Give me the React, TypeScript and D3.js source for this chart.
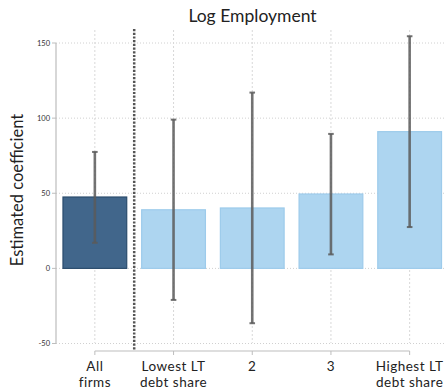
import React from 'react';
import * as d3 from 'd3';

const categories = ['All firms', 'Lowest LT debt share', '2', '3', 'Highest LT debt share'];
const labelLines = [['All', 'firms'], ['Lowest LT', 'debt share'], ['2'], ['3'], ['Highest LT', 'debt share']];
const coefs = [47.5, 39, 40.2, 49.5, 91];
const ciLow = [17, -21, -36.5, 9.3, 27.5];
const ciHigh = [77.5, 99, 117, 89.5, 154.5];
const yTicks = [-50, 0, 50, 100, 150];

const W = 448;
const H = 390;
const margin = { top: 43, left: 56, right: 3, bottom: 46 };
const font = 'Lato, "Noto Sans", sans-serif';

const App: React.FC = () => {
  const y = d3.scaleLinear().domain([-50, 150]).range([343.5, 43]);
  const x = d3.scaleBand()
    .domain(categories)
    .range([55.5, 449])
    .paddingInner(0.19)
    .paddingOuter(0.095);
  const bw = x.bandwidth();
  const cx = (c: string) => x(c)! + bw / 2;
  const sepX = (cx(categories[0]) + cx(categories[1])) / 2;

  return (
    <svg width={W} height={H} style={{ position: 'absolute', left: 0, top: 0, background: '#fff' }}>
      <text x={252.5} y={22} textAnchor="middle" fontFamily={font} fontSize={17.5} fill="#222">Log Employment</text>
      <text transform={`translate(23,190) rotate(-90)`} textAnchor="middle" fontFamily={font} fontSize={16.5} fill="#222">
        Estimated coefficient
      </text>

      {/* horizontal grid */}
      {yTicks.map(t => (
        <line key={'h' + t} x1={margin.left} x2={W - margin.right} y1={y(t)} y2={y(t)}
          stroke="#d0d0d0" strokeWidth={1} strokeDasharray="1,2" />
      ))}
      {/* vertical grid */}
      {categories.map(c => (
        <line key={'v' + c} x1={cx(c)} x2={cx(c)} y1={30} y2={343} stroke="#d8d8d8" strokeWidth={1} strokeDasharray="2,2" />
      ))}

      {/* bars */}
      {categories.map((c, i) => (
        <rect key={'b' + c} x={x(c)!} y={y(Math.max(0, coefs[i]))} width={bw}
          height={Math.abs(y(coefs[i]) - y(0))}
          fill={i === 0 ? '#41668b' : '#add5f0'}
          stroke={i === 0 ? '#2b4c6d' : '#9dcbeb'} strokeWidth={1.2} />
      ))}

      {/* error bars */}
      {categories.map((c, i) => (
        <g key={'e' + c} stroke="#5a5a5a" strokeOpacity={0.85}>
          <line x1={cx(c)} x2={cx(c)} y1={y(ciLow[i])} y2={y(ciHigh[i])} strokeWidth={2.6} />
          <line x1={cx(c) - 2.8} x2={cx(c) + 2.8} y1={y(ciLow[i])} y2={y(ciLow[i])} strokeWidth={2} />
          <line x1={cx(c) - 2.8} x2={cx(c) + 2.8} y1={y(ciHigh[i])} y2={y(ciHigh[i])} strokeWidth={2} />
        </g>
      ))}

      {/* separator */}
      <line x1={sepX} x2={sepX} y1={29} y2={350} stroke="#555" strokeWidth={2.5} strokeDasharray="2.2,1.5" />

      {/* y axis */}
      <line x1={margin.left} x2={margin.left} y1={y(150)} y2={y(-50)} stroke="#bdbdbd" strokeWidth={1.2} />
      {yTicks.map(t => (
        <g key={'yt' + t}>
          <line x1={margin.left - 4} x2={margin.left} y1={y(t)} y2={y(t)} stroke="#bdbdbd" strokeWidth={1} />
          <text x={margin.left - 6} y={y(t) + 2.5} textAnchor="end" fontFamily={font} fontSize={7.5} fill="#333">{t}</text>
        </g>
      ))}

      {/* x axis */}
      <line x1={cx(categories[0])} x2={cx(categories[4])} y1={351} y2={351} stroke="#bdbdbd" strokeWidth={1.2} />
      {categories.map((c, i) => (
        <g key={'xt' + c}>
          <line x1={cx(c)} x2={cx(c)} y1={351} y2={355} stroke="#bdbdbd" strokeWidth={1} />
          {labelLines[i].map((l, j) => (
            <text key={j} x={cx(c)} y={370.5 + j * 16.5} textAnchor="middle" fontFamily={font} fontSize={13.5}
              letterSpacing={0.5} fill="#222">{l}</text>
          ))}
        </g>
      ))}
    </svg>
  );
};

export default App;
